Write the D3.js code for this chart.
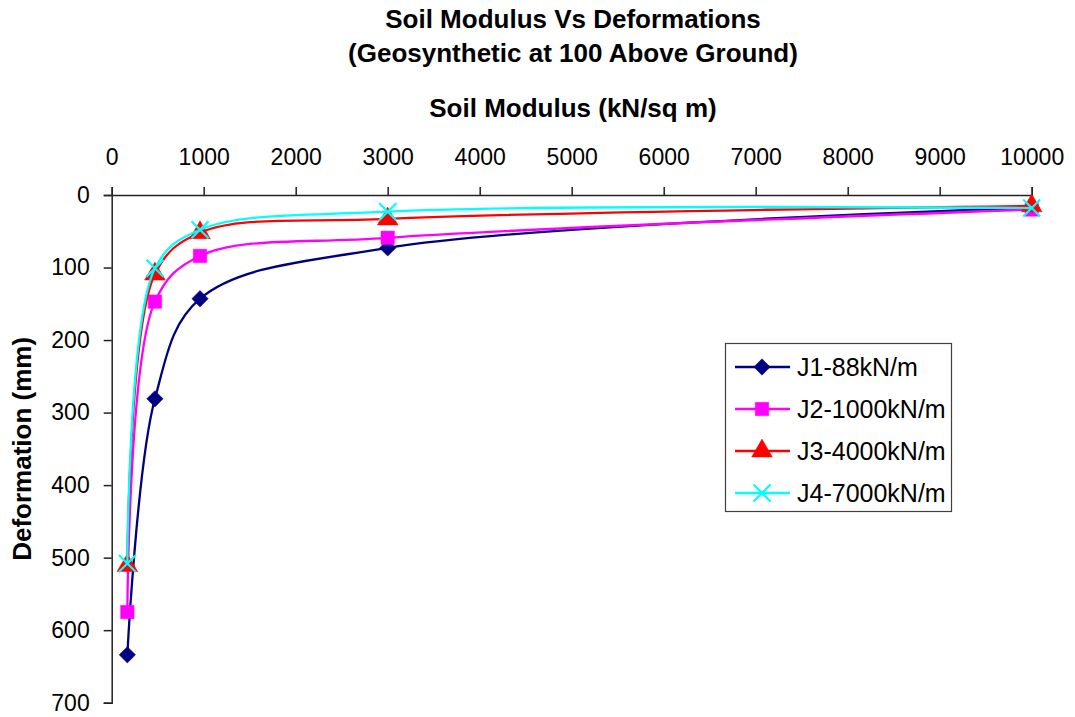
<!DOCTYPE html>
<html>
<head>
<meta charset="utf-8">
<script src="https://cdn.jsdelivr.net/npm/d3@7"></script>
<style>
  html, body { margin: 0; padding: 0; background: #fff; }
  svg { display: block; font-family: "Liberation Sans", Arial, sans-serif; }
</style>
</head>
<body>
<svg id="chart" width="1075" height="717"></svg>
<script>
// Soil modulus (kN/sq m) at which each deformation was computed
const soilModulus = [170, 470, 960, 3000, 10000];

// Deformation (mm) for each geosynthetic stiffness
const j1Deformation = [634, 281, 143, 73, 18];
const j2Deformation = [575, 147, 84, 59, 20];
const j3Deformation = [511, 109, 52, 33, 15];
const j4Deformation = [508, 101, 48, 23, 18];

const seriesNames = ["J1-88kN/m", "J2-1000kN/m", "J3-4000kN/m", "J4-7000kN/m"];

const xTicks = [0, 1000, 2000, 3000, 4000, 5000, 6000, 7000, 8000, 9000, 10000];
const yTicks = [0, 100, 200, 300, 400, 500, 600, 700];

const series = [
  { name: seriesNames[0], values: j1Deformation, color: "#000080", marker: "diamond" },
  { name: seriesNames[1], values: j2Deformation, color: "#FF00FF", marker: "square" },
  { name: seriesNames[2], values: j3Deformation, color: "#FF0000", marker: "triangle" },
  { name: seriesNames[3], values: j4Deformation, color: "#00FFFF", marker: "cross" }
];

const svg = d3.select("#chart");
const plot = { left: 111.7, right: 1031.7, top: 195, bottom: 702.7 };

const x = d3.scaleLinear().domain([0, 10000]).range([plot.left, plot.right]);
const y = d3.scaleLinear().domain([0, 700]).range([plot.top, plot.bottom]);

// Titles
svg.append("text")
  .attr("x", 573).attr("y", 28)
  .attr("text-anchor", "middle")
  .attr("font-size", 26).attr("font-weight", "bold")
  .text("Soil Modulus Vs Deformations");
svg.append("text")
  .attr("x", 573).attr("y", 62)
  .attr("text-anchor", "middle")
  .attr("font-size", 26).attr("font-weight", "bold")
  .text("(Geosynthetic at 100 Above Ground)");
svg.append("text")
  .attr("x", 573).attr("y", 117)
  .attr("text-anchor", "middle")
  .attr("font-size", 26).attr("font-weight", "bold")
  .text("Soil Modulus (kN/sq m)");
svg.append("text")
  .attr("transform", `translate(31, ${(plot.top + plot.bottom) / 2}) rotate(-90)`)
  .attr("text-anchor", "middle")
  .attr("font-size", 26).attr("font-weight", "bold")
  .text("Deformation (mm)");

// Axes: modulus along the top, deformation increasing downward
const xAxis = svg.append("g")
  .attr("transform", `translate(0, ${plot.top})`)
  .call(d3.axisTop(x).tickValues(xTicks).tickSize(8).tickSizeOuter(8).tickPadding(22).tickFormat(d3.format("d")));
const yAxis = svg.append("g")
  .attr("transform", `translate(${plot.left}, 0)`)
  .call(d3.axisLeft(y).tickValues(yTicks).tickSize(8).tickSizeOuter(8).tickPadding(14).tickFormat(d3.format("d")));

[xAxis, yAxis].forEach(g => {
  g.selectAll("path.domain").attr("stroke", "#222").attr("stroke-width", 1.5);
  g.selectAll(".tick line").attr("stroke", "#222").attr("stroke-width", 1.5);
  g.selectAll(".tick text").attr("font-size", 23).attr("fill", "#000")
    .attr("font-family", "\"Liberation Sans\", Arial, sans-serif");
});

// Marker shapes
function markerPath(type) {
  if (type === "diamond") return d3.symbol(d3.symbolDiamond2, 170)();
  if (type === "square") return d3.symbol(d3.symbolSquare, 180)();
  if (type === "triangle") return d3.symbol(d3.symbolTriangle, 185)();
  return d3.symbol(d3.symbolX, 190)();
}

function drawMarker(g, type, color, cx, cy) {
  const p = g.append("path")
    .attr("transform", `translate(${cx},${cy})`)
    .attr("d", markerPath(type));
  if (type === "cross") {
    p.attr("fill", "none").attr("stroke", color).attr("stroke-width", 2.2);
  } else {
    p.attr("fill", color).attr("stroke", color).attr("stroke-width", 0.5);
  }
}

const line = d3.line()
  .x(d => x(d[0]))
  .y(d => y(d[1]))
  .curve(d3.curveCatmullRom.alpha(0.5));

const seriesLayer = svg.append("g");
series.forEach(s => {
  const pts = soilModulus.map((m, i) => [m, s.values[i]]);
  const g = seriesLayer.append("g");
  g.append("path")
    .attr("d", line(pts))
    .attr("fill", "none")
    .attr("stroke", s.color)
    .attr("stroke-width", 2.3)
    .attr("stroke-linejoin", "round");
  pts.forEach(p => drawMarker(g, s.marker, s.color, x(p[0]), y(p[1])));
});

// Legend
const legend = svg.append("g");
legend.append("rect")
  .attr("x", 725.5).attr("y", 343.5)
  .attr("width", 226).attr("height", 168)
  .attr("fill", "#fff").attr("stroke", "#404040").attr("stroke-width", 1.2);
series.forEach((s, i) => {
  const ly = 367 + i * 42;
  legend.append("line")
    .attr("x1", 735).attr("x2", 790).attr("y1", ly).attr("y2", ly)
    .attr("stroke", s.color).attr("stroke-width", 2.3);
  drawMarker(legend, s.marker, s.color, 762, ly);
  legend.append("text")
    .attr("x", 797).attr("y", ly + 9)
    .attr("font-size", 25)
    .text(s.name);
});
</script>
</body>
</html>
